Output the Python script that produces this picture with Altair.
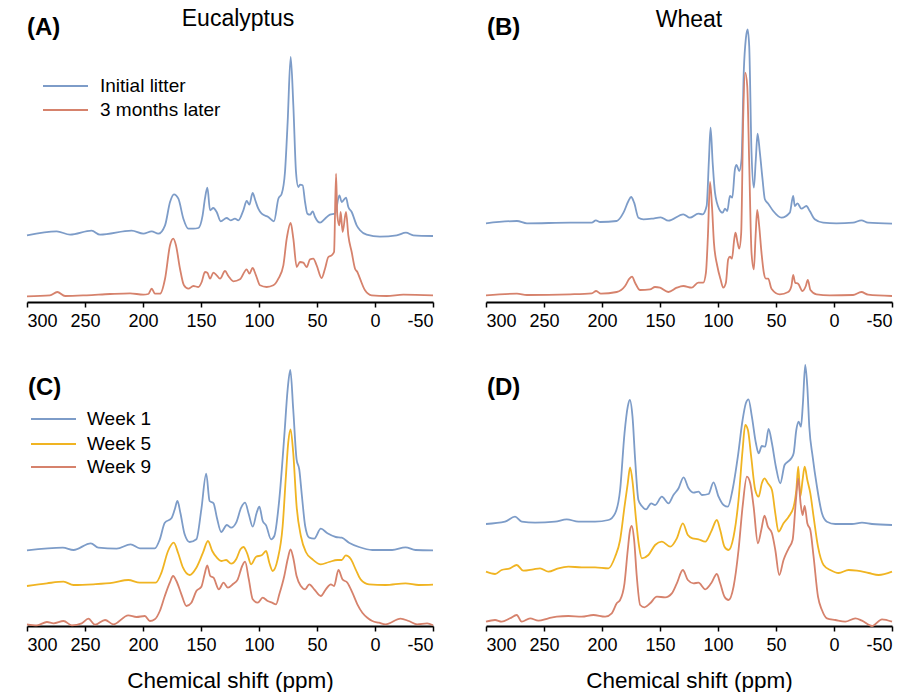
import altair as alt
import pandas as pd

# ---------------- data (ppm, intensity) ----------------
TICKS = [300, 250, 200, 150, 100, 50, 0, -50]

a_init_ppm = [300, 274.4, 262.9, 244.3, 237.1, 209.8, 199.7, 192.5, 186.8, 181.0, 176.7, 173.3, 169.5, 165.2, 160.9,
              156.6, 152.3, 148.6, 146.6, 144.5, 142.2, 139.4, 136.5, 133.0, 127.9, 124.4, 120.7, 117.8, 113.5, 110.6,
              108.3, 105.5, 103.2, 100.6, 97.7, 92.0, 87.1, 83.3, 80.5, 77.6, 75.3, 72.7, 70.4, 68.1, 66.1,
              64.7, 62.4, 60.3, 58.3, 56.0, 53.7, 51.7, 47.4, 43.1, 38.8, 34.5, 30.7, 28.7, 25.0, 23.0,
              20.1, 15.8, 12.9, 7.2, -4.3, -18.7, -26.7, -33.0, -50]
a_init_int = [66.7, 70.7, 67.3, 71.3, 67.3, 71.3, 68.3, 70.7, 68.3, 76.7, 100, 107.7, 103.3, 83.3, 73.3,
              73.3, 74, 86.7, 103.3, 114.3, 91.7, 94, 90, 80.7, 84, 81.7, 83.3, 81.7, 91.7, 101,
              97.3, 109, 101.7, 93.3, 88.3, 85, 80.7, 103.3, 108, 130, 180, 245, 196.7, 130, 115,
              117.3, 116.7, 100, 88.3, 87.3, 90.7, 85, 79.3, 83.3, 87.3, 88.3, 106.7, 100, 104.3, 95,
              90, 76.7, 71.7, 67.3, 65.3, 66.7, 69.3, 66.7, 66]

a_later_ppm = [300, 280.2, 273.9, 267.2, 248.6, 228.4, 211.2, 199.7, 195.4, 192.5, 189.7, 185.3, 181.0, 176.7, 173.9,
               171.6, 168.1, 164.7, 160.9, 156.6, 152.3, 149.4, 146.6, 144.5, 142.2, 139.4, 136.5, 133.6, 129.3, 126.4,
               122.1, 116.4, 110.6, 108.3, 105.5, 102.6, 99.1, 93.4, 87.6, 83.3, 79.0, 76.1, 72.7, 70.4, 67.5,
               64.7, 61.8, 58.9, 56.0, 53.2, 50.3, 46.0, 43.1, 40.2, 37.4, 35.3, 33.6, 32.5, 30.7, 29.6,
               27.9, 25.0, 23.0, 20.1, 17.2, 15.2, 12.9, 8.6, 2.9, -10.1, -24.4, -50]
a_later_int = [5.7, 6.7, 10, 6, 6.7, 8, 8.7, 7.3, 8, 13.3, 8.3, 8.3, 23.3, 56.7, 63.3,
               56.7, 33.3, 16.7, 13.3, 16, 15, 20, 30, 29.3, 23.3, 29.3, 26.7, 23.3, 31, 26,
               20.7, 22.7, 32.7, 28.3, 34, 26.7, 16.7, 15, 16.7, 23.3, 36.7, 63.3, 79, 63.3, 35,
               40, 39.3, 35, 42.7, 43.3, 36.7, 24, 33.3, 45, 46.7, 50, 128.3, 86.7, 76.7, 90,
               70, 90, 66.7, 50, 33.3, 30, 23.3, 11.7, 6.7, 6, 7.3, 6.7]

b_init_ppm = [300, 273.3, 264.7, 227.4, 208.8, 205.3, 201.6, 187.3, 181.5, 177.2, 174.9, 172.3, 168.6, 164.3, 157.1,
              149.4, 142.8, 129.9, 124.2, 117.0, 113.3, 109.8, 107.8, 106.4, 104.6, 102.6, 98.9, 96.0, 94.0, 92.0,
              89.7, 87.7, 85.4, 84.0, 81.7, 79.7, 77.7, 76.0, 74.5, 73.1, 71.1, 69.1, 67.4, 65.9, 63.9,
              61.6, 59.6, 56.7, 52.4, 45.3, 38.1, 35.2, 33.8, 31.5, 28.1, 23.8, 20.9, 16.6, 9.4, -2.1,
              -16.4, -23.6, -29.3, -50]
b_init_int = [78.7, 81, 78.7, 79.3, 79.3, 81.7, 80, 81, 89.3, 101, 105, 99.3, 84.3, 82.7, 83.3,
              84.7, 81.3, 87.7, 84.3, 88.3, 87.7, 96, 142.7, 174.3, 139.3, 109.3, 92.7, 89.3, 93.3, 91,
              106, 104.3, 132.7, 137, 131, 142.7, 232.7, 263.3, 272.7, 256, 149.3, 114.3, 142.7, 168.3, 149.3,
              122.7, 102.7, 98.3, 91, 84.3, 89.3, 106, 96, 98.7, 93.3, 96, 91, 82.7, 79.3, 78.7,
              79.3, 81.7, 79.3, 78.3]

b_later_ppm = [300, 273.3, 264.7, 227.4, 208.8, 205.0, 201.0, 187.3, 180.1, 176.4, 174.1, 171.5, 167.2, 158.6, 154.3,
               150.0, 142.8, 135.6, 129.9, 122.7, 117.0, 112.7, 110.4, 108.7, 106.9, 105.2, 103.5, 100.6, 97.8, 95.5,
               93.2, 91.2, 89.7, 88.0, 86.0, 84.9, 83.1, 81.7, 80.0, 78.3, 76.5, 74.8, 73.1, 71.1, 69.1,
               67.6, 66.2, 64.5, 62.5, 60.5, 58.7, 56.7, 53.9, 46.7, 39.5, 36.7, 35.2, 33.5, 30.9, 27.2,
               24.3, 22.6, 20.3, 15.1, 3.7, -16.4, -23.6, -29.3, -50]
b_later_int = [6.7, 8.3, 7, 7.7, 8.7, 11, 8.3, 10, 16, 23.3, 25.3, 19.3, 12, 12.7, 15,
               14.3, 10, 14.3, 16, 14.3, 19.3, 19.3, 29.3, 66, 120, 96, 59.3, 36, 22.7, 14.3,
               19.3, 42.7, 45.3, 43.3, 62.7, 69.3, 59.3, 53.3, 69.3, 182.7, 229.3, 216, 139.3, 49.3, 32.7,
               66, 92, 76, 49.3, 29.3, 23.3, 23.3, 13.3, 7.7, 10, 16, 27, 19.3, 18.3, 11,
               16, 22, 12, 7.7, 6.7, 7, 10, 7.3, 6]

c_w1_ppm = [300, 269.1, 259.9, 245.0, 238.5, 222.7, 210.7, 202.7, 189.8, 185.5, 181.2, 175.5, 172.6, 170.3, 167.8,
            164.1, 159.8, 154.0, 149.7, 145.5, 142.6, 139.2, 136.3, 132.6, 127.7, 124.0, 119.7, 115.4, 112.0, 108.8,
            105.4, 102.0, 99.7, 96.8, 93.9, 89.6, 86.8, 82.5, 78.2, 75.3, 73.0, 70.5, 67.6, 65.3, 63.0,
            60.2, 56.7, 52.4, 46.7, 41.0, 33.8, 28.7, 22.4, 13.8, 2.3, -14.8, -26.3, -34.9, -50]
c_w1_int = [75.7, 78.3, 76, 82.7, 78.3, 77.3, 81.7, 77.7, 77.7, 86.7, 103.3, 107.7, 116.7, 125, 113.3,
            91.7, 84, 86.7, 116.7, 152.3, 125, 122.7, 108.3, 94, 101, 98.3, 103.3, 118.3, 123.3, 111.7,
            99.3, 113.3, 119.3, 105, 100.7, 86.7, 90, 126.7, 190, 236.7, 256, 216.7, 166.7, 156.7, 130,
            100, 88.3, 87.3, 97.3, 92.7, 89, 88.3, 83.3, 79, 76, 76, 78.7, 76, 75.7]

c_w5_ppm = [300, 282.8, 268.5, 259.9, 242.8, 225.6, 212.7, 202.7, 189.0, 184.1, 178.4, 173.5, 169.8, 165.5, 159.8,
            154.0, 148.3, 144.0, 140.3, 136.3, 132.6, 128.3, 124.0, 119.7, 116.0, 113.4, 110.2, 106.8, 102.5, 97.7,
            93.9, 91.1, 88.2, 83.9, 79.6, 76.8, 74.8, 72.8, 70.5, 67.6, 63.9, 59.6, 53.9, 46.7, 39.6,
            32.4, 28.7, 25.2, 21.0, 16.7, 12.4, 5.2, -9.1, -26.3, -37.7, -50]
c_w5_int = [40, 42.7, 44.3, 41, 41.7, 43.3, 46, 43.3, 43.3, 53.3, 75, 83.3, 73.3, 58.3, 51,
            58.3, 73.3, 85, 75, 68.3, 65, 66, 62.3, 66.7, 76.7, 79, 72.7, 61.7, 69.3, 70.7,
            75, 63.3, 55, 66.7, 100, 150, 183.3, 196.7, 173.3, 120, 90, 74, 66.7, 61.7, 64,
            66, 66, 70.7, 67.3, 56.7, 46.7, 41.7, 41, 42.7, 41, 41.3]

c_w9_ppm = [300, 291.4, 282.8, 277.1, 268.5, 261.4, 252.8, 247.1, 241.3, 232.7, 225.6, 212.7, 205.6, 198.4, 194.1,
            189.8, 185.5, 181.2, 176.9, 174.1, 171.2, 166.9, 162.6, 158.3, 154.0, 149.7, 146.9, 144.6, 142.0, 139.2,
            134.6, 130.6, 126.8, 122.6, 118.3, 114.5, 112.0, 108.8, 105.4, 101.1, 96.8, 92.5, 88.8, 85.3, 82.5,
            78.2, 75.3, 72.8, 70.5, 67.6, 63.9, 60.2, 56.7, 52.4, 46.7, 42.4, 38.1, 35.3, 31.5, 28.1,
            23.8, 19.5, 15.2, 10.9, 6.6, 2.3, -3.4, -9.1, -22.0, -29.1, -36.3, -44.9, -50]
c_w9_int = [1.7, 0.7, 4, 2.7, 5, 0.7, 2.7, 7.3, 1.3, 6, 1.7, 10.7, 9, 10, 5,
            6.7, 15, 30, 43.3, 50, 45, 31.7, 20, 23.3, 35, 39.3, 51.7, 60.7, 50, 48.3,
            36.7, 43.3, 38.3, 41.7, 46.7, 60, 64.3, 46.7, 26.7, 23.3, 28.3, 25, 23.3, 21.7, 31.7,
            50, 66.7, 76.7, 68.3, 50, 40, 36.7, 41.7, 36.7, 30, 36.7, 41.7, 40, 56, 46.7,
            43.3, 33.3, 21.7, 13.3, 8.3, 5, 3.3, 1.7, 7.3, 5, 1.7, 2.7, 0.7]

d_w1_ppm = [300, 283.6, 275.0, 269.2, 257.7, 240.5, 230.4, 220.3, 206.0, 194.4, 188.7, 184.4, 180.6, 177.8, 176.0,
            173.7, 171.4, 168.6, 165.7, 162.0, 157.6, 154.2, 148.4, 142.7, 138.4, 134.0, 129.7, 125.4, 121.1, 116.8,
            113.9, 108.2, 103.9, 99.5, 95.2, 91.5, 87.5, 82.9, 78.8, 76.0, 73.7, 70.8, 67.3, 65.0, 62.2,
            59.3, 56.4, 53.5, 50.1, 46.3, 42.6, 39.7, 36.8, 34.8, 32.5, 30.5, 28.5, 26.8, 24.8, 23.0,
            21.3, 18.4, 14.7, 10.4, 6.1, -1.1, -15.5, -24.1, -32.8, -50]
d_w1_int = [102, 104.3, 109.3, 104.3, 103.3, 104.3, 106.7, 104.3, 104.3, 106, 112.7, 136, 192.7, 219.3, 226,
            209.3, 166, 126, 120, 116.7, 122.7, 121, 129.3, 122.7, 131, 137.7, 148.7, 137.7, 133.3, 134.3,
            131, 132, 143.7, 129.3, 121, 119.3, 136, 169.3, 206, 222.7, 226.7, 209.3, 182.7, 172.7, 180,
            179.3, 197, 182.7, 159.3, 142.7, 161, 164.3, 167.7, 172.7, 196, 204.3, 199.3, 222.7, 261, 239.3,
            199.3, 169.3, 139.3, 112.7, 104.3, 102, 102, 103.3, 102, 101]

d_w5_ppm = [300, 292.2, 286.5, 279.3, 273.5, 267.8, 259.2, 253.4, 246.2, 237.6, 229.0, 217.5, 206.0, 194.4, 188.7,
            184.4, 180.6, 177.8, 175.8, 173.5, 170.9, 168.0, 165.7, 160.0, 154.2, 148.4, 141.2, 135.5, 130.3, 126.0,
            122.0, 116.8, 111.0, 105.9, 101.0, 98.1, 94.4, 90.9, 86.6, 82.3, 78.8, 76.5, 74.2, 71.4, 67.9,
            65.0, 62.2, 59.9, 57.0, 53.5, 50.6, 47.8, 43.5, 39.1, 34.8, 32.5, 30.8, 29.1, 27.1, 25.3,
            23.0, 20.4, 17.6, 13.8, 9.0, 3.2, -4.0, -12.6, -19.8, -29.9, -38.5, -50]
d_w5_int = [54.3, 52, 56, 57.7, 61, 55.3, 56.7, 57.7, 54.3, 57.7, 59.3, 58.7, 58.7, 57.7, 69.3,
            86, 119.3, 142.7, 158.7, 142.7, 109.3, 79.3, 67.7, 71, 81, 84.3, 79.3, 87.7, 102.7, 91,
            87.7, 86.7, 84.3, 94.3, 106, 96, 79.3, 76, 89.3, 126, 176, 201, 196, 169.3, 136,
            129.3, 142.7, 147.7, 142.7, 136, 112.7, 94.3, 102.7, 109.3, 119.3, 136, 159.3, 129.3, 146, 159.3,
            146, 132.7, 109.3, 79.3, 61, 56, 53, 56, 55.3, 53, 51, 54.3]

d_w9_ppm = [300, 292.2, 286.5, 279.3, 273.5, 269.2, 262.0, 254.8, 246.2, 239.0, 229.0, 217.5, 207.4, 197.3, 191.6,
            187.3, 184.4, 180.6, 177.8, 175.8, 174.3, 172.3, 170.0, 167.1, 163.4, 158.5, 152.7, 145.6, 139.8, 135.5,
            130.3, 126.0, 121.1, 116.8, 111.0, 105.9, 101.0, 98.1, 94.4, 90.9, 86.6, 82.3, 78.8, 75.1, 72.2,
            69.3, 65.6, 62.7, 59.9, 57.0, 53.5, 50.6, 47.2, 43.5, 39.1, 35.7, 32.8, 30.8, 28.8, 27.1,
            25.3, 23.0, 20.4, 17.6, 13.8, 10.4, 6.1, -1.1, -9.7, -18.4, -24.1, -32.8, -41.4, -50]
d_w9_int = [4.3, 6, 4.3, 7.7, 11, 4.3, 7.7, 5.3, 7.7, 9.3, 10, 9.3, 11, 9.3, 12.7,
            22.7, 26, 42.7, 76, 96, 100, 86, 49.3, 21, 18.7, 22.7, 29.3, 28.7, 32.7, 42.7,
            56, 46, 42.7, 43.3, 36.7, 42.7, 52, 42.7, 29.3, 26, 39.3, 76, 119.3, 149.3, 142.7,
            119.3, 82.7, 96, 110.3, 99.3, 92.7, 76, 51, 66, 77.7, 86, 126, 147.7, 122.7, 111,
            120, 102.7, 96, 69.3, 29.3, 16, 7.7, 6, 4.3, 7.7, 5.3, 0, 6.7, 4.3]

# ---------------- style ----------------
BLUE = "#7d9cc8"
SALMON = "#d6826c"
GOLD = "#f0b422"
FONT = "Liberation Sans"

W = 406
H_TOP = 283
H_BOT = 277


def spectrum(ppm, inten, color, h, title):
    df = pd.DataFrame({"ppm": ppm, "intensity": inten})
    return alt.Chart(df).mark_line(color=color, strokeWidth=1.8, strokeJoin="round",
                                   interpolate="monotone").encode(
        x=alt.X("ppm:Q",
                scale=alt.Scale(domain=[-50, 300], reverse=True, nice=False, zero=False),
                axis=alt.Axis(values=TICKS, title=title, grid=False, labelExpr="'' + datum.value")),
        y=alt.Y("intensity:Q", scale=alt.Scale(domain=[0, h], nice=False, zero=True), axis=None),
    )


def text(t, x, y, size, weight="normal", align="left", baseline="alphabetic"):
    d = pd.DataFrame({"t": [t]})
    return alt.Chart(d).mark_text(align=align, baseline=baseline, fontSize=size, fontWeight=weight,
                                  font=FONT, color="black").encode(
        text="t:N", x=alt.value(x), y=alt.value(y))


def legend_entry(t, color, x0, x1, y, tx, size):
    d = pd.DataFrame({"t": [t]})
    rule = alt.Chart(d).mark_rule(color=color, strokeWidth=2).encode(
        x=alt.value(x0), x2=alt.value(x1), y=alt.value(y))
    lab = alt.Chart(d).mark_text(align="left", baseline="middle", fontSize=size, font=FONT,
                                 color="black").encode(text="t:N", x=alt.value(tx), y=alt.value(y))
    return rule + lab


XT = "Chemical shift (ppm)"

panel_a = alt.layer(
    spectrum(a_init_ppm, a_init_int, BLUE, H_TOP, None),
    spectrum(a_later_ppm, a_later_int, SALMON, H_TOP, None),
    text("(A)", 0, 16, 24, "bold"),
    text("Eucalyptus", 211, 7, 23, align="center"),
    legend_entry("Initial litter", BLUE, 16, 61, 67, 73, 19),
    legend_entry("3 months later", SALMON, 16, 61, 91, 73, 19),
).properties(width=W, height=H_TOP)

panel_b = alt.layer(
    spectrum(b_init_ppm, b_init_int, BLUE, H_TOP, None),
    spectrum(b_later_ppm, b_later_int, SALMON, H_TOP, None),
    text("(B)", 1, 16, 24, "bold"),
    text("Wheat", 203, 8, 23, align="center"),
).properties(width=W, height=H_TOP)

panel_c = alt.layer(
    spectrum(c_w1_ppm, c_w1_int, BLUE, H_BOT, XT),
    spectrum(c_w5_ppm, c_w5_int, GOLD, H_BOT, XT),
    spectrum(c_w9_ppm, c_w9_int, SALMON, H_BOT, XT),
    text("(C)", 1, 46, 24, "bold"),
    legend_entry("Week 1", BLUE, 4, 49, 70, 60, 19),
    legend_entry("Week 5", GOLD, 4, 49, 95, 60, 19),
    legend_entry("Week 9", SALMON, 4, 49, 118, 60, 19),
).properties(width=W, height=H_BOT)

panel_d = alt.layer(
    spectrum(d_w1_ppm, d_w1_int, BLUE, H_BOT, XT),
    spectrum(d_w5_ppm, d_w5_int, GOLD, H_BOT, XT),
    spectrum(d_w9_ppm, d_w9_int, SALMON, H_BOT, XT),
    text("(D)", 1, 46, 24, "bold"),
).properties(width=W, height=H_BOT)

chart = alt.ConcatChart(
    concat=[panel_a, panel_b, panel_c, panel_d],
    columns=2,
    spacing={"row": 47, "column": 53},
    bounds="flush",
).properties(
    padding={"left": 26, "top": 8, "right": 5, "bottom": 0},
    background="white",
).configure_view(stroke=None).configure_axis(
    domainColor="black", domainWidth=2, tickColor="black", tickWidth=1.5, tickSize=5,
    labelFont=FONT, labelFontSize=18, labelColor="black", labelPadding=5,
    titleFont=FONT, titleFontSize=22.5, titleFontWeight="normal", titleColor="black", titlePadding=15,
)

chart.save("out.html", embed_options={"renderer": "svg", "actions": False})
